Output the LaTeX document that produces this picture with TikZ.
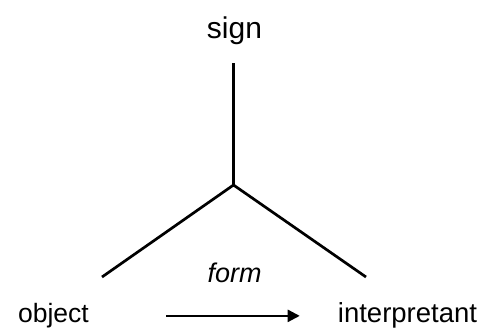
\documentclass[tikz,border=0pt]{standalone}
\usepackage{fontspec}
\setmainfont{Liberation Sans}
\usetikzlibrary{arrows.meta}
\begin{document}
\begin{tikzpicture}[x=1pt,y=-1pt,
  lbl/.style={anchor=base,inner sep=0pt,font=\fontsize{26.5}{30}\selectfont},
  yline/.style={line width=2.7pt,line cap=butt},
  formarrow/.style={line width=2.2pt,-{Triangle[length=12pt,width=12pt]}}]
\useasboundingbox (0,0) rectangle (481,327);
\node[lbl,font=\fontsize{30}{34}\selectfont] (sign) at (234.5,38) {sign};
\node[lbl] (object) at (53.5,322) {object};
\node[lbl,font=\fontsize{27.5}{30}\selectfont] (interp) at (407.5,322) {interpretant};
\node[lbl,font=\fontsize{27}{30}\selectfont\itshape] (form) at (234.5,282) {form};
\coordinate (top) at (233.5,63);
\coordinate (j) at (233.5,185);
\coordinate (l) at (102,277);
\coordinate (r) at (366,277);
\draw[yline] (top) -- (j);
\draw[yline] (l) -- (j) -- (r);
\draw[formarrow,shorten <=77pt,shorten >=38pt] ([yshift=3.5pt]object.mid east) -- ([yshift=3.5pt]interp.mid west);
\end{tikzpicture}
\end{document}
